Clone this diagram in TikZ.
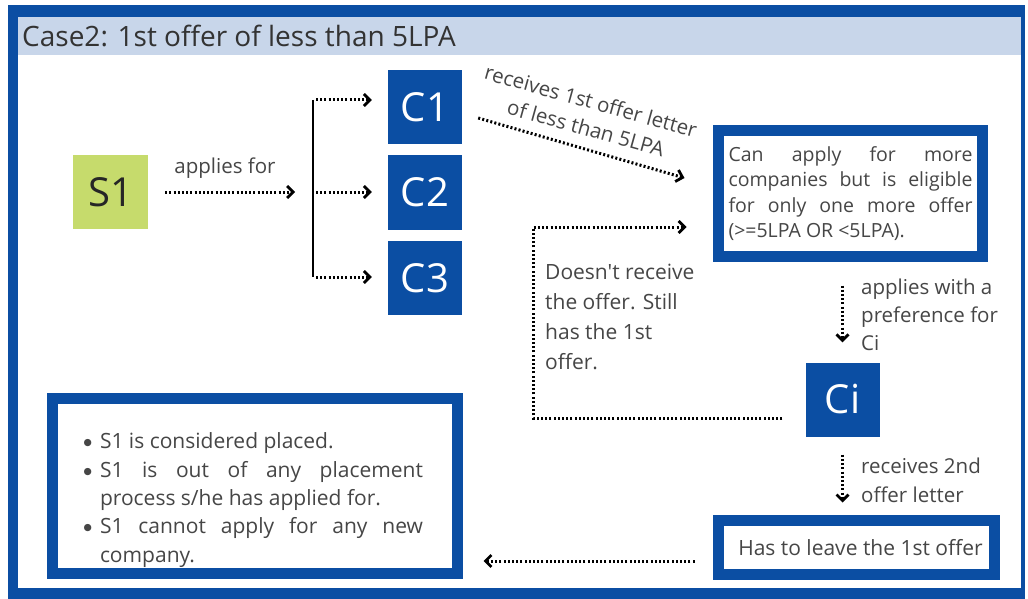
\documentclass[tikz,border=0pt]{standalone}
\usepackage{fontspec}
\setmainfont{Open Sans}[Ligatures=TeXOff]
\newfontfamily\dejavufont{DejaVu Sans}
\usetikzlibrary{arrows.meta}
\definecolor{bblue}{RGB}{11,78,163}
\definecolor{tband}{RGB}{200,214,234}
\definecolor{sgreen}{RGB}{198,219,108}
\definecolor{tgray}{RGB}{70,70,70}
\newcommand{\bigbul}{\llap{\raisebox{3pt}{\dejavufont\fontsize{9.5}{9.5}\selectfont ●}\hskip 8pt}}
\begin{document}
\begin{tikzpicture}[x=1pt,y=-1pt,
  arr/.style={line width=3pt, dash pattern=on 2pt off 2.2pt, -{Straight Barb[length=6pt,width=12pt,line width=2.8pt]}},
  cbox/.style={fill=bblue, text=white, minimum width=74pt, minimum height=74pt, inner sep=0pt, font=\fontsize{40}{44}\selectfont},
  frame/.style={draw=bblue, line width=11pt, fill=white, inner sep=0pt, text=tgray},
  lbl/.style={text=tgray, inner sep=0pt, align=left},
]
\useasboundingbox (0,0) rectangle (1028,599);
% outer frame and title band
\fill[bblue] (8,5) rectangle (1025,599);
\fill[white] (18,17) rectangle (1021,588);
\fill[tband] (18,17) rectangle (1021,55);
\node[anchor=west, text=black!80, inner sep=0pt, font=\fontsize{28}{32}\selectfont] (title) at (22,36) {Case2: 1st offer of less than 5LPA};

% nodes
\node[fill=sgreen, minimum width=75pt, minimum height=74pt, inner sep=0pt, text=black!85, font=\fontsize{40}{44}\selectfont] (s1) at (110.5,192) {S1};
\node[cbox] (c1) at (425,107.5) {C1};
\node[cbox] (c2) at (425,192.5) {C2};
\node[cbox] (c3) at (425,278) {C3};
\node[cbox] (ci) at (842.5,399.5) {Ci};

\node[frame, minimum width=264pt, minimum height=126pt, text width=244pt, align=justify, font=\fontsize{19.5}{25.5}\selectfont] (can) at (850.5,193.5)
  {Can apply for more\linebreak companies but is eligible\linebreak for only one more offer\linebreak (>=5LPA OR <5LPA).};

\node[frame, minimum width=276pt, minimum height=54pt, font=\fontsize{21}{24}\selectfont] (leave) at (856.5,547.5) {\hspace*{8pt}Has to leave the 1st offer};

\node[frame, minimum width=405pt, minimum height=175pt] (placed) at (255,486) {};
\node[lbl, text width=340pt, align=justify, font=\fontsize{21}{28.3}\selectfont] (placedtxt) at (253,500)
  {\leftskip=17pt
   \noindent\bigbul S1 is considered placed.\par
   \noindent\bigbul S1 is out of any placement\linebreak process s/he has applied for.\par
   \noindent\bigbul S1 cannot apply for any new\linebreak company.\par};

% labels
\node[lbl, font=\fontsize{20.5}{24}\selectfont] (lapp) at (225,168) {applies for};
\node[lbl, rotate=-15.6, font=\fontsize{20.5}{24}\selectfont] (lrecA) at (591,101) {receives 1st offer letter};
\node[lbl, rotate=-15.6, font=\fontsize{20.5}{24}\selectfont] (lrecB) at (586,128) {of less than 5LPA};
\node[lbl, anchor=west, font=\fontsize{21}{30}\selectfont] (ldoes) at (545,317) {Doesn't receive\\the offer. Still\\has the 1st\\offer.};
\node[lbl, anchor=west, font=\fontsize{20.5}{28}\selectfont] (lpref) at (861,315) {applies with a\\preference for\\Ci};
\node[lbl, anchor=west, font=\fontsize{20.5}{29}\selectfont] (lsec) at (861,480) {receives 2nd\\offer letter};

% connectors
\coordinate (brT) at (313,100);
\coordinate (brM) at (313,192);
\coordinate (brB) at (313,277);
\draw[line width=2.6pt] (brT) -- (brB);
\draw[arr, shorten <=17pt, shorten >=18pt] (s1.east) -- (brM);
\draw[arr, shorten <=3pt, shorten >=16pt] (brT) -- (brT -| c1.west);
\draw[arr, shorten <=3pt, shorten >=16pt] (brM) -- (brM -| c2.west);
\draw[arr, shorten <=3pt, shorten >=16pt] (brB) -- (brB -| c3.west);

\draw[arr] ([xshift=16pt,yshift=-10.5pt]c1.east) -- ([xshift=-28.5pt,yshift=15.5pt]can.west);

\draw[arr, shorten <=23.5pt, shorten >=20pt] (can.south -| ci.north) -- (ci.north);
\draw[arr, shorten <=18pt, shorten >=12.5pt] (ci.south) -- (ci.south |- leave.north);

\coordinate (lpA) at (533,418);
\coordinate (lpB) at (533,227);
\draw[arr, shorten <=23pt, shorten >=26.5pt] (ci.west |- lpA) -- (lpA) -- (lpB) -- (lpB -| can.west);

\coordinate (lv) at ([yshift=-13.5pt]leave.west);
\draw[arr, shorten <=18.5pt, shorten >=20.5pt] (lv) -- (lv -| placed.east);
\end{tikzpicture}
\end{document}
